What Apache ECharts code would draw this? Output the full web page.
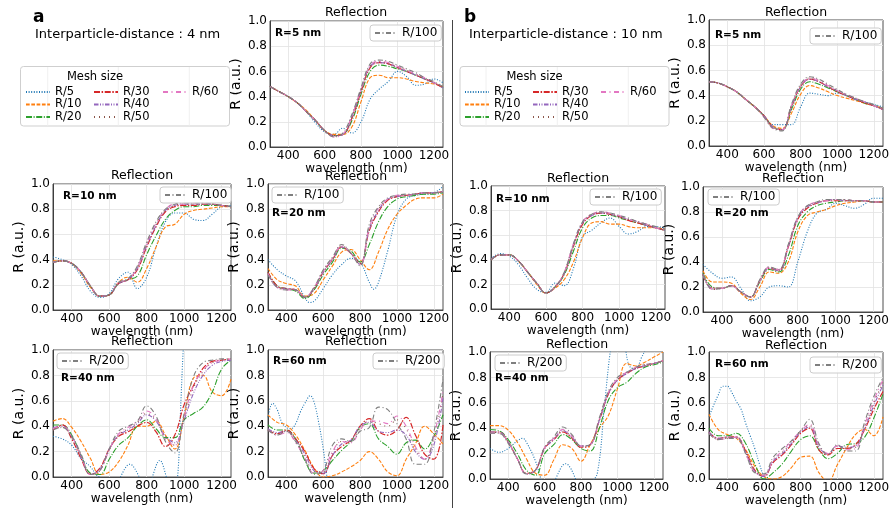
<!DOCTYPE html>
<html><head><meta charset="utf-8">
<script src="https://cdn.jsdelivr.net/npm/echarts@6/dist/echarts.min.js"></script>
<style>html,body{margin:0;padding:0;background:#fff}#c{width:889px;height:508px}</style>
</head><body><div id="c"></div>
<script>
// ---------- DATA ----------
const wl = [300,350,400,450,500,550,600,650,700,750,800,850,900,950,1000,1050,1100,1150,1200,1250];
const meshNames = ['R/5','R/10','R/20','R/30','R/40','R/50','R/60'];
const xTicks = [400,600,800,1000,1200];

// rows: R/5, R/10, R/20, R/30, R/40, R/50, R/60, reference (R/100 or R/200)
const a5Y = [
 [.48,.44,.40,.35,.28,.19,.12,.10,.15,.11,.20,.38,.46,.52,.60,.56,.49,.50,.54,.51],
 [.48,.44,.40,.35,.29,.21,.13,.10,.10,.16,.36,.55,.57,.55,.55,.54,.52,.51,.50,.48],
 [.48,.44,.40,.35,.28,.21,.13,.09,.10,.21,.42,.60,.65,.64,.62,.60,.57,.54,.51,.47],
 [.48,.44,.40,.35,.28,.21,.13,.09,.10,.23,.44,.63,.67,.66,.63,.60,.57,.54,.51,.47],
 [.48,.44,.40,.35,.28,.21,.13,.09,.10,.24,.45,.64,.67,.66,.63,.60,.57,.54,.51,.47],
 [.48,.44,.40,.35,.28,.21,.13,.09,.10,.24,.46,.64,.68,.66,.64,.61,.58,.54,.51,.47],
 [.48,.44,.40,.35,.28,.21,.13,.08,.10,.25,.46,.65,.68,.67,.64,.61,.58,.55,.51,.47],
 [.48,.44,.40,.35,.28,.21,.13,.08,.11,.26,.47,.66,.69,.68,.65,.62,.59,.55,.52,.48]
];
const a10Y = [
 [.42,.40,.36,.27,.15,.10,.13,.25,.30,.17,.26,.50,.70,.77,.77,.72,.71,.76,.82,.83],
 [.39,.39,.37,.29,.18,.11,.12,.22,.26,.22,.33,.50,.66,.68,.76,.79,.80,.81,.82,.82],
 [.38,.39,.37,.30,.19,.11,.12,.21,.24,.27,.44,.59,.72,.79,.82,.82,.83,.83,.83,.82],
 [.38,.39,.37,.30,.19,.11,.12,.21,.24,.32,.50,.66,.78,.82,.83,.83,.84,.84,.83,.82],
 [.38,.39,.37,.30,.19,.11,.12,.21,.24,.33,.51,.67,.79,.83,.84,.84,.84,.84,.83,.82],
 [.38,.39,.37,.30,.19,.11,.12,.21,.24,.34,.52,.68,.79,.83,.84,.84,.84,.84,.83,.82],
 [.38,.39,.37,.30,.19,.11,.12,.22,.24,.34,.53,.69,.80,.84,.84,.85,.85,.84,.83,.82],
 [.38,.39,.37,.30,.19,.11,.12,.22,.25,.35,.54,.70,.80,.84,.85,.85,.85,.84,.83,.82]
];
const a20X5 = [300,350,400,450,500,525,550,600,650,700,750,800,850,875,900,950,1000,1050,1100,1150,1200,1250];
const a20Y = [
 [.40,.32,.27,.23,.10,.06,.07,.17,.28,.36,.41,.38,.22,.165,.22,.47,.75,.88,.91,.92,.93,.98],
 [.33,.24,.21,.19,.11,.13,.24,.35,.46,.48,.40,.32,.46,.64,.76,.83,.88,.89,.89,.92],
 [.30,.19,.17,.15,.09,.16,.28,.38,.49,.47,.38,.52,.70,.82,.88,.90,.91,.92,.92,.93],
 [.30,.19,.17,.16,.10,.17,.30,.40,.50,.45,.37,.63,.78,.87,.90,.91,.92,.93,.93,.94],
 [.29,.18,.17,.16,.10,.17,.30,.40,.50,.45,.36,.64,.79,.88,.90,.91,.92,.93,.93,.94],
 [.29,.18,.17,.16,.10,.18,.31,.41,.51,.45,.36,.65,.80,.88,.90,.91,.92,.93,.93,.94],
 [.29,.18,.16,.16,.10,.18,.31,.41,.51,.45,.36,.66,.81,.88,.91,.91,.92,.93,.93,.94],
 [.28,.18,.16,.16,.10,.18,.32,.42,.52,.45,.35,.68,.82,.89,.91,.92,.92,.93,.93,.94]
];
const a40X5 = [300,350,400,450,500,530,560,600,660,710,760,800,830,870,905,940,965,980,995,1020];
const a40Y = [
 [.32,.30,.25,.145,.08,.02,-.02,-.2,0,.10,0,-.15,0,.13,0,-.2,0,.5,1.0,1.6],
 [.44,.46,.39,.28,.145,.02,.04,.12,.25,.40,.40,.44,.33,.22,.48,.78,.80,.67,.64,.77],
 [.41,.41,.33,.17,.03,.02,.14,.25,.31,.40,.45,.38,.31,.31,.45,.50,.55,.67,.85,.92],
 [.37,.41,.30,.145,.02,.07,.22,.32,.355,.40,.43,.355,.24,.33,.57,.72,.855,.91,.92,.93],
 [.39,.40,.32,.16,.02,.06,.22,.33,.37,.42,.49,.44,.32,.27,.45,.66,.80,.88,.91,.92],
 [.38,.39,.31,.16,.02,.05,.21,.33,.38,.43,.50,.45,.31,.25,.46,.70,.83,.90,.92,.93],
 [.38,.40,.32,.17,.02,.05,.21,.34,.39,.44,.52,.46,.30,.25,.48,.72,.84,.90,.92,.93],
 [.37,.39,.32,.18,.02,.05,.22,.36,.40,.44,.56,.48,.28,.19,.50,.79,.90,.92,.93,.93]
];
const a60X5 = [300,325,350,375,400,425,450,475,500,530,550,575,600,620,650];
const a60Y = [
 [.47,.58,.53,.43,.39,.38,.42,.51,.58,.64,.59,.43,.22,0,-.3],
 [.49,.43,.41,.33,.21,.07,.0,.01,.04,.08,.13,.20,.14,.04,.01,.14,.26,.40,.34,.26],
 [.41,.37,.37,.30,.13,.03,.05,.13,.21,.28,.39,.42,.30,.24,.18,.27,.29,.22,.32,.49],
 [.37,.34,.37,.30,.20,.066,.026,.17,.24,.29,.40,.46,.36,.33,.37,.47,.33,.18,.14,.41],
 [.38,.35,.36,.29,.18,.05,.03,.17,.26,.29,.40,.43,.36,.35,.37,.33,.20,.14,.25,.62],
 [.37,.34,.36,.28,.16,.04,.04,.19,.28,.28,.38,.44,.42,.40,.45,.38,.22,.14,.30,.66],
 [.37,.33,.35,.27,.15,.03,.05,.20,.28,.27,.37,.44,.44,.42,.48,.40,.24,.14,.32,.68],
 [.37,.33,.36,.28,.14,.02,.05,.25,.30,.28,.36,.39,.55,.53,.42,.30,.10,.10,.35,.77]
];
const b5Y = [
 [.51,.50,.47,.43,.37,.31,.24,.17,.17,.17,.31,.42,.41,.40,.42,.40,.37,.35,.33,.31],
 [.51,.50,.47,.43,.37,.31,.24,.16,.14,.26,.41,.48,.46,.43,.40,.38,.36,.34,.32,.30],
 [.51,.50,.47,.43,.37,.31,.24,.15,.13,.29,.45,.51,.49,.46,.43,.40,.37,.34,.32,.29],
 [.51,.50,.47,.43,.37,.31,.24,.15,.13,.31,.47,.53,.51,.47,.43,.40,.37,.34,.32,.29],
 [.51,.50,.47,.43,.37,.31,.24,.15,.13,.31,.47,.53,.51,.47,.44,.40,.37,.35,.32,.29],
 [.51,.50,.47,.43,.37,.31,.24,.14,.13,.32,.48,.54,.52,.48,.44,.41,.38,.35,.32,.29],
 [.51,.50,.47,.43,.37,.31,.23,.14,.13,.32,.48,.54,.52,.48,.44,.41,.38,.35,.32,.29],
 [.51,.50,.47,.43,.37,.31,.23,.14,.12,.33,.49,.55,.53,.49,.45,.41,.38,.35,.33,.30]
];
const b10Y = [
 [.41,.45,.43,.36,.25,.16,.135,.21,.19,.33,.59,.64,.70,.74,.67,.61,.63,.67,.67,.66],
 [.40,.44,.44,.39,.30,.20,.13,.17,.24,.38,.58,.70,.71,.69,.69,.67,.66,.66,.66,.65],
 [.40,.44,.44,.39,.30,.21,.13,.18,.28,.47,.66,.74,.76,.76,.74,.72,.70,.68,.66,.64],
 [.40,.44,.44,.39,.30,.21,.13,.18,.29,.51,.69,.76,.78,.77,.75,.72,.70,.68,.66,.64],
 [.40,.44,.44,.39,.30,.21,.13,.18,.29,.52,.70,.76,.78,.77,.75,.73,.71,.68,.66,.64],
 [.40,.44,.44,.39,.30,.21,.13,.18,.30,.52,.70,.77,.78,.77,.75,.73,.71,.69,.66,.64],
 [.40,.44,.44,.39,.30,.21,.13,.18,.30,.53,.71,.77,.79,.78,.76,.73,.71,.69,.66,.64],
 [.40,.44,.44,.39,.30,.21,.13,.18,.30,.53,.71,.77,.79,.78,.76,.74,.71,.69,.67,.65]
];
const b20Y = [
 [.38,.31,.27,.28,.19,.09,.12,.20,.21,.20,.40,.64,.79,.82,.87,.85,.83,.86,.91,.91],
 [.33,.24,.24,.23,.15,.10,.20,.32,.31,.40,.64,.77,.80,.82,.85,.87,.88,.89,.88,.88],
 [.31,.20,.19,.21,.16,.12,.24,.34,.32,.45,.69,.80,.85,.87,.88,.89,.89,.89,.88,.88],
 [.30,.19,.19,.21,.16,.12,.25,.35,.33,.52,.74,.83,.87,.89,.89,.89,.89,.89,.88,.88],
 [.30,.19,.19,.21,.16,.12,.25,.35,.33,.52,.75,.84,.87,.89,.90,.89,.89,.89,.88,.88],
 [.30,.18,.19,.21,.16,.12,.25,.36,.34,.53,.75,.84,.88,.89,.90,.90,.89,.89,.88,.88],
 [.30,.18,.19,.21,.16,.12,.25,.36,.34,.53,.76,.85,.88,.89,.90,.90,.89,.89,.88,.88],
 [.30,.18,.19,.21,.16,.12,.26,.36,.34,.54,.76,.85,.88,.90,.90,.90,.89,.89,.88,.88]
];
const b40X5 = [300,350,400,450,480,500,550,580,620,660,715,770,810,850,890,930,965,1000,1040,1070,1100,1130,1160,1200];
const b40Y = [
 [.24,.21,.24,.30,.32,.29,.14,0,-.15,0,.12,0,-.2,-.05,.05,.6,1.05,1.3,1.05,.88,.87,.95,1.05,1.3],
 [.42,.42,.385,.29,.16,.045,.03,.15,.27,.24,.14,.27,.40,.50,.71,.91,.89,.92,.96,1.0],
 [.39,.38,.31,.20,.07,.03,.20,.27,.35,.31,.24,.22,.40,.62,.72,.76,.83,.88,.90,.92],
 [.37,.37,.29,.16,.045,.07,.24,.31,.37,.32,.25,.27,.46,.67,.78,.83,.87,.89,.91,.93],
 [.37,.37,.29,.16,.04,.07,.24,.31,.38,.33,.26,.27,.46,.67,.78,.83,.87,.89,.91,.93],
 [.37,.36,.29,.16,.04,.07,.25,.32,.38,.33,.26,.27,.47,.68,.78,.84,.87,.90,.91,.93],
 [.36,.36,.29,.16,.04,.07,.25,.32,.39,.34,.26,.27,.47,.68,.79,.84,.88,.90,.91,.93],
 [.36,.36,.28,.16,.04,.07,.25,.33,.41,.35,.26,.27,.48,.69,.80,.84,.88,.90,.91,.93]
];
const b60X5 = [300,325,350,375,400,425,450,475,500,525,550,575,600,625];
const b60Y = [
 [.49,.58,.66,.73,.73,.68,.61,.55,.44,.34,.24,.12,.01,-.1],
 [.51,.39,.35,.32,.23,.10,.02,.0,.02,.09,.17,.18,.05,-.02,.11,.24,.35,.39,.34,.49],
 [.40,.34,.34,.36,.28,.12,.0,.05,.12,.22,.31,.34,.23,.16,.20,.27,.28,.33,.48,.67],
 [.37,.32,.33,.33,.22,.07,.02,.13,.19,.27,.36,.40,.23,.19,.24,.24,.27,.39,.55,.69],
 [.37,.32,.33,.33,.21,.06,.02,.14,.20,.28,.37,.41,.25,.20,.26,.25,.26,.40,.58,.74],
 [.36,.31,.32,.33,.21,.06,.03,.15,.21,.29,.38,.42,.26,.20,.26,.24,.25,.42,.60,.76],
 [.36,.31,.32,.33,.20,.05,.03,.15,.22,.30,.38,.43,.27,.20,.26,.23,.24,.43,.62,.78],
 [.36,.31,.32,.32,.20,.05,.04,.17,.24,.30,.38,.47,.28,.19,.27,.22,.22,.45,.65,.80]
];

// ---------- LAYOUT / STYLE ----------
const FONT = 'DejaVu Sans';
const lineStyles = {
  'R/5':  {color:'#1f77b4', type:[1,1.6], w:1.1},
  'R/10': {color:'#ff7f0e', type:[3.7,1.6], w:1.1},
  'R/20': {color:'#2ca02c', type:[6,1.6,1,1.6], w:1.1},
  'R/30': {color:'#d62728', type:[6,1.6,1.5,1.6], w:1.2},
  'R/40': {color:'#9467bd', type:[4.5,1.5,1,1.5,1,1.5], w:1.1},
  'R/50': {color:'#8c564b', type:[1,4], w:1.1},
  'R/60': {color:'#e377c2', type:[5,3.5,1,3.5], w:1.1},
  'R/100':{color:'#7f7f7f', type:[5,2.5,1,2.5], w:1.1},
  'R/200':{color:'#7f7f7f', type:[5,2.5,1,2.5], w:1.1}
};
const plots = [
 {box:[270,21,173,126], ttl:[356,13],  tag:'R=5 nm',  tagPos:[275,33],  ref:'R/100', refPos:[370,25],  ys:a5Y},
 {box:[53,184,178,126], ttl:[142,176], tag:'R=10 nm', tagPos:[63,196],  ref:'R/100', refPos:[160,187], ys:a10Y},
 {box:[268,184,175,126],ttl:[356,177], tag:'R=20 nm', tagPos:[272,213], ref:'R/100', refPos:[272,187], ys:a20Y, x5:a20X5},
 {box:[53,350,178,127], ttl:[142,342], tag:'R=40 nm', tagPos:[61,378],  ref:'R/200', refPos:[57,353],  ys:a40Y, x5:a40X5},
 {box:[268,350,175,127],ttl:[356,342], tag:'R=60 nm', tagPos:[273,361], ref:'R/200', refPos:[373,353], ys:a60Y, x5:a60X5},
 {box:[709,20,174,126], ttl:[796,13],  tag:'R=5 nm',  tagPos:[715,35],  ref:'R/100', refPos:[810,28],  ys:b5Y},
 {box:[491,186,174,123],ttl:[578,179], tag:'R=10 nm', tagPos:[496,199], ref:'R/100', refPos:[590,189], ys:b10Y},
 {box:[703,187,180,125],ttl:[793,179], tag:'R=20 nm', tagPos:[715,213], ref:'R/100', refPos:[708,189], ys:b20Y},
 {box:[490,352,173,127],ttl:[577,345], tag:'R=40 nm', tagPos:[495,378], ref:'R/200', refPos:[495,355], ys:b40Y, x5:b40X5},
 {box:[709,352,174,127],ttl:[796,346], tag:'R=60 nm', tagPos:[715,364], ref:'R/200', refPos:[810,357], ys:b60Y, x5:b60X5}
];

function txt(text, x, y, font, align, valign, z){
  return {type:'text', z:z||10, style:{text:text, x:x, y:y, font:font, fill:'#000',
    textAlign:align, align:align, textVerticalAlign:valign, verticalAlign:valign}};
}

const grids=[], xAxes=[], yAxes=[], series=[], legends=[], graphics=[];
plots.forEach((p,i)=>{
  grids.push({left:p.box[0], top:p.box[1], width:p.box[2], height:p.box[3], show:true,
    borderColor:'#222', borderWidth:0.8, backgroundColor:'transparent', outerBoundsMode:'none', containLabel:false});
  xAxes.push({gridIndex:i, type:'value', min:300, max:1250, name:'wavelength (nm)', nameLocation:'middle', nameGap:15,
    nameTextStyle:{fontFamily:FONT, fontSize:12, color:'#000'},
    axisLine:{show:true, onZero:false, lineStyle:{color:'#222', width:0.8}},
    axisTick:{show:false, customValues:xTicks},
    axisLabel:{customValues:xTicks, formatter:v=>String(Math.round(v)), fontFamily:FONT, fontSize:12, color:'#000', margin:3},
    splitLine:{show:true, lineStyle:{color:'#e2e2e2', width:0.8}}});
  yAxes.push({gridIndex:i, type:'value', min:0, max:1, interval:0.2, name:'R (a.u.)', nameLocation:'middle', nameGap:27,
    nameTextStyle:{fontFamily:FONT, fontSize:14, color:'#000'},
    axisLine:{show:true, onZero:false, lineStyle:{color:'#222', width:0.8}},
    axisTick:{show:false},
    axisLabel:{formatter:v=>v.toFixed(1), fontFamily:FONT, fontSize:12, color:'#000', margin:3},
    splitLine:{show:true, lineStyle:{color:'#e2e2e2', width:0.8}}});
  const names = meshNames.concat([p.ref]);
  names.forEach((nm,k)=>{
    const s = lineStyles[nm];
    const ys = p.ys[k];
    const xs = (k===0 && p.x5) ? p.x5 : wl;
    series.push({type:'line', name:nm, xAxisIndex:i, yAxisIndex:i,
      data: xs.map((x,j)=>[x, ys[j]]), symbol:'none', smooth:0.4, clip:true, silent:true,
      lineStyle:{color:s.color, width:s.w, type:s.type}, itemStyle:{color:s.color}, z:2+k/10});
  });
  legends.push({data:[p.ref], left:p.refPos[0], top:p.refPos[1], orient:'horizontal', selectedMode:false,
    itemWidth:22, itemHeight:10, padding:[2,4,2,4], backgroundColor:'rgba(255,255,255,0.85)',
    borderColor:'#cccccc', borderWidth:1, borderRadius:3, itemStyle:{opacity:0},
    textStyle:{fontFamily:FONT, fontSize:12, color:'#000'}});
  graphics.push(txt('Reflection', p.ttl[0], p.ttl[1], '12.5px '+FONT, 'center', 'middle'));
  graphics.push(txt(p.tag, p.tagPos[0], p.tagPos[1], 'bold 10.5px '+FONT, 'left', 'middle'));
});

// main "Mesh size" legends (3 columns per panel)
const cols = [['R/5','R/10','R/20'],['R/30','R/40','R/50'],['R/60']];
const panelLegend = [{x0:20.5, colX:[25,93,162], cx:95,  sepX:[47.7,118.3,189.3]},
                     {x0:460, colX:[464,532,600], cx:534.5, sepX:[486,557.3,628.3]}];
panelLegend.forEach(pl=>{
  graphics.push({type:'rect', z:1, shape:{x:pl.x0, y:66.5, width:209, height:59.5, r:3},
    style:{fill:'#fff', stroke:'#cfcfcf', lineWidth:1}});
  pl.sepX.forEach(sx=>graphics.push({type:'line', z:2, shape:{x1:sx, y1:67, x2:sx, y2:125.5}, style:{stroke:'#f0f0f0', lineWidth:1}}));
  graphics.push(txt('Mesh size', pl.cx, 77, '11.5px '+FONT, 'center', 'middle'));
  cols.forEach((c,ci)=>{
    legends.push({data:c, left:pl.colX[ci], top:86, orient:'vertical', selectedMode:false, itemGap:0.5,
      itemWidth:24, itemHeight:10, padding:0, itemStyle:{opacity:0},
      textStyle:{fontFamily:FONT, fontSize:11.5, color:'#000'}});
  });
});

graphics.push(txt('a', 33, 18, 'bold 17px '+FONT, 'left', 'middle'));
graphics.push(txt('b', 464, 18, 'bold 17px '+FONT, 'left', 'middle'));
graphics.push(txt('Interparticle-distance : 4 nm', 35, 35, '13px '+FONT, 'left', 'middle'));
graphics.push(txt('Interparticle-distance : 10 nm', 469, 35, '13px '+FONT, 'left', 'middle'));
graphics.push({type:'line', z:1, shape:{x1:452.5, y1:20, x2:452.5, y2:508}, style:{stroke:'#444', lineWidth:1}});

const chart = echarts.init(document.getElementById('c'), null, {renderer:'canvas'});
chart.setOption({
  animation:false,
  backgroundColor:'#fff',
  grid:grids, xAxis:xAxes, yAxis:yAxes, series:series, legend:legends,
  graphic:{elements:graphics}
});
</script></body></html>
